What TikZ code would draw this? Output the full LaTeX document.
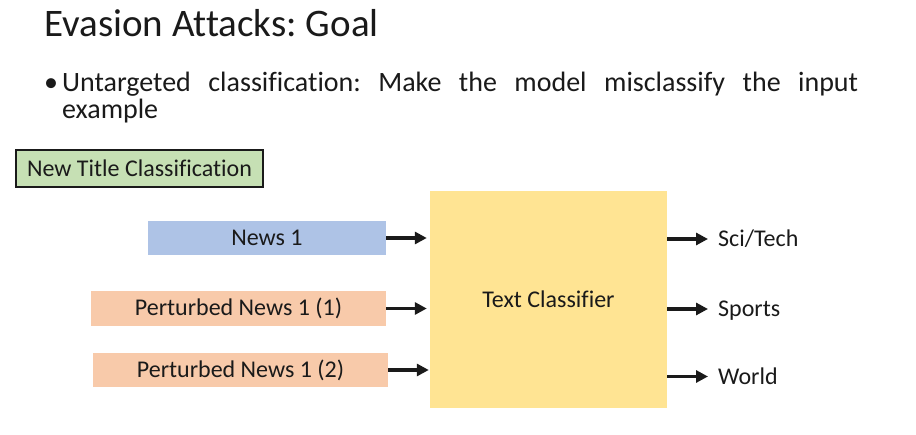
\documentclass[tikz,border=0pt]{standalone}
\usepackage{fontspec}
\setmainfont{Carlito}[Ligatures=NoCommon,Contextuals=NoAlternate]
\usetikzlibrary{arrows.meta}
\definecolor{boxblue}{HTML}{AEC3E6}
\definecolor{boxorange}{HTML}{F8CAAA}
\definecolor{boxyellow}{HTML}{FFE493}
\definecolor{boxgreen}{HTML}{C6E0B4}
\definecolor{ink}{HTML}{1A1A1A}
\frenchspacing
\begin{document}
\begin{tikzpicture}[x=1pt,y=-1pt,
  txt/.style={inner sep=0pt,text=ink},
  inbox/.style={inner sep=0pt,minimum height=34pt,font=\fontsize{24}{28}\selectfont,text=ink},
  outlabel/.style={inner sep=0pt,anchor=west,text height=15.5pt,text depth=0pt,font=\fontsize{24}{28}\selectfont,text=ink},
  arr/.style={line width=3.2pt,-{Triangle[length=12pt,width=12pt]},ink}]
\useasboundingbox (0,0) rectangle (916,435);
\fill[white] (0,0) rectangle (916,435);
% title and bullet
\node[txt,anchor=base west,font=\fontsize{39}{47}\selectfont] (title) at (44,37) {Evasion Attacks: Goal};
\node[txt,anchor=base west,font=\fontsize{28}{28}\selectfont] (bullet) at (44,92) {•};
\node[txt,anchor=base west,font=\fontsize{28}{28}\selectfont] (line1) at (62,92) {\makebox[796pt][s]{Untargeted classification: Make the model misclassify the input}};
\node[txt,anchor=base west,font=\fontsize{28}{28}\selectfont] (line2) at (62,119) {example};
% task label
\node[draw=ink,line width=1.5pt,fill=boxgreen,minimum width=247pt,minimum height=37pt,inner sep=0pt,font=\fontsize{24}{28}\selectfont,text=ink] (task) at (139.5,168.5) {New Title Classification};
% inputs
\node[inbox,fill=boxblue,minimum width=238pt] (news1) at (267,238) {News 1};
\node[inbox,fill=boxorange,minimum width=295pt,minimum height=35pt] (p1) at (238.5,308.5) {Perturbed News 1 (1)};
\node[inbox,fill=boxorange,minimum width=295pt] (p2) at (240.5,370) {Perturbed News 1 (2)};
% classifier
\node[fill=boxyellow,minimum width=237pt,minimum height=217pt,inner sep=0pt,font=\fontsize{24}{28}\selectfont,text=ink] (clf) at (548.5,299.5) {Text Classifier};
% outputs
\node[outlabel] (o1) at (718,239) {Sci/Tech};
\node[outlabel] (o2) at (718,309) {Sports};
\node[outlabel] (o3) at (718,376.5) {World};
% arrows
\draw[arr,shorten >=3pt] (news1.east) -- (news1.east -| clf.west);
\draw[arr,shorten >=3pt] (p1.east) -- (p1.east -| clf.west);
\draw[arr,shorten >=1pt] (p2.east) -- (p2.east -| clf.west);
\draw[arr,shorten >=10pt] (clf.east |- o1.west) -- (o1.west);
\draw[arr,shorten >=10pt] (clf.east |- o2.west) -- (o2.west);
\draw[arr,shorten >=10pt] (clf.east |- o3.west) -- (o3.west);
\end{tikzpicture}
\end{document}
